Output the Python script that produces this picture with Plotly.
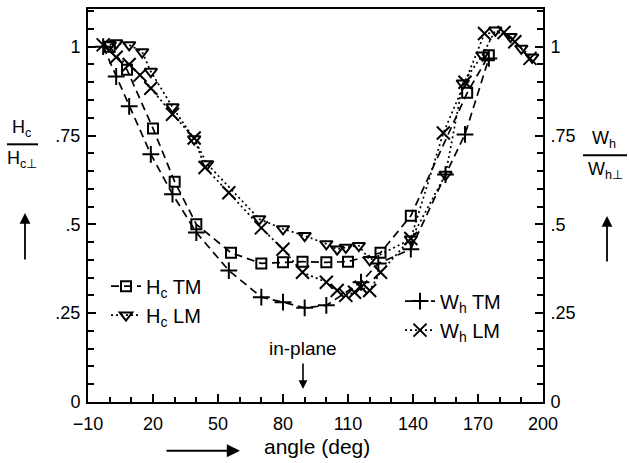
import plotly.graph_objects as go

# ---- data ----
hc_tm_x = [0, 8, 20, 30, 40, 56, 70, 80, 89, 100, 110, 125, 139, 165, 175]
hc_tm_y = [1.0, 0.935, 0.77, 0.62, 0.50, 0.42, 0.39, 0.393, 0.395, 0.393, 0.395, 0.42, 0.524, 0.87, 0.976]

hc_lm_x = [0, 3, 9, 15, 19, 29, 39, 45, 69, 80, 90, 100, 105, 109, 115, 120, 139, 155, 163, 172, 178, 185, 190, 195]
hc_lm_y = [1.005, 1.01, 1.005, 0.985, 0.93, 0.83, 0.74, 0.67, 0.515, 0.487, 0.468, 0.445, 0.43, 0.435, 0.44, 0.40, 0.458, 0.64, 0.897, 0.976, 1.046, 1.028, 0.995, 0.97]

wh_tm_x = [-3, 3, 9, 19, 29, 40, 55, 70, 80, 90, 100, 116, 124, 139, 155, 164, 175]
wh_tm_y = [1.0, 0.916, 0.832, 0.697, 0.585, 0.477, 0.37, 0.295, 0.281, 0.265, 0.272, 0.337, 0.39, 0.43, 0.64, 0.753, 0.967]

wh_lm_x = [-3, 3, 9, 14, 19, 29, 39, 44, 55, 70, 80, 89, 100, 105, 109, 113, 116, 120, 125, 139, 154, 164, 173, 182, 187, 194]
wh_lm_y = [1.005, 0.97, 0.95, 0.92, 0.883, 0.81, 0.743, 0.66, 0.589, 0.49, 0.43, 0.365, 0.337, 0.314, 0.30, 0.309, 0.323, 0.314, 0.365, 0.46, 0.757, 0.90, 1.037, 1.04, 1.014, 0.967]

x_ticks = [-10, 20, 50, 80, 110, 140, 170, 200]
x_tick_text = ["\u221210", "20", "50", "80", "110", "140", "170", "200"]
y_ticks = [0, 0.25, 0.5, 0.75, 1]
y_tick_text = ["0", ".25", ".5", ".75", "1"]

FONT = "Liberation Sans"
BLACK = "black"

fig = go.Figure()

def add(x, y, name, symbol, dash, legend, size):
    fig.add_trace(go.Scatter(
        x=x, y=y, name=name, mode="lines+markers", legend=legend,
        line=dict(color=BLACK, width=1.7, dash=dash),
        marker=dict(symbol=symbol, size=size, color=BLACK,
                    line=dict(color=BLACK, width=2)),
    ))

DASH = "8px,5px"
DOT = "2px,3px"
add(hc_tm_x, hc_tm_y, "H<sub>c</sub> TM", "square-open", DASH, "legend", 10)
add(hc_lm_x, hc_lm_y, "H<sub>c</sub> LM", "triangle-down-open", DOT, "legend", 11)
add(wh_tm_x, wh_tm_y, "W<sub>h</sub> TM", "cross-thin-open", DASH, "legend2", 12)
add(wh_lm_x, wh_lm_y, "W<sub>h</sub> LM", "x-thin-open", DOT, "legend2", 13)

# invisible trace for the right axis
fig.add_trace(go.Scatter(x=[None], y=[None], yaxis="y2", showlegend=False))

W, H = 629, 463
L, R, T, B = 88, 543, 7, 402

def px(xp):
    return (xp - L) / (R - L)

def py(yp):
    return (B - yp) / (B - T)

axis_font = dict(family=FONT, size=18, color=BLACK)
yaxis_common = dict(
    range=[0, 1.106], tickvals=y_ticks, ticktext=y_tick_text,
    ticks="inside", ticklen=8, tickwidth=2, tickcolor=BLACK,
    minor=dict(dtick=0.05, tick0=0, ticks="inside", ticklen=6, tickwidth=1.5, tickcolor=BLACK),
    showline=True, linewidth=2, linecolor=BLACK,
    showgrid=False, zeroline=False, tickfont=axis_font, ticklabelstandoff=2,
)

fig.update_layout(
    width=W, height=H,
    margin=dict(l=L, r=W - R, t=T, b=H - B),
    paper_bgcolor="white", plot_bgcolor="white",
    font=dict(family=FONT, color=BLACK),
    xaxis=dict(
        range=[-10, 200], tickvals=x_ticks, ticktext=x_tick_text,
        ticks="inside", ticklen=8, tickwidth=2,
        minor=dict(dtick=10, tick0=-10, ticks="inside", ticklen=5, tickwidth=1.5, tickcolor=BLACK),
        showline=True, linewidth=2, linecolor=BLACK, mirror=True,
        showgrid=False, zeroline=False, tickfont=axis_font, tickcolor=BLACK,
        ticklabelstandoff=4,
    ),
    yaxis=yaxis_common,
    yaxis2=dict(yaxis_common, overlaying="y", side="right"),
    legend=dict(
        x=px(106), y=py(266), xanchor="left", yanchor="top",
        bgcolor="rgba(0,0,0,0)", font=dict(family=FONT, size=20, color=BLACK),
        itemwidth=30, tracegroupgap=0,
    ),
    legend2=dict(
        x=px(400), y=py(281), xanchor="left", yanchor="top",
        bgcolor="rgba(0,0,0,0)", font=dict(family=FONT, size=20, color=BLACK),
        itemwidth=30, tracegroupgap=0,
    ),
)

lab_font = dict(family=FONT, size=18, color=BLACK)

def text_ann(xp, yp, text, font, yanchor="middle"):
    return dict(x=px(xp), y=py(yp), xref="paper", yref="paper", text=text,
                xanchor="center", yanchor=yanchor, showarrow=False, font=font)

def arrow_ann(xp, yp, ax, ay, width=1.8, size=1.2):
    return dict(x=px(xp), y=py(yp), xref="paper", yref="paper", ax=ax, ay=ay,
                text="", showarrow=True, arrowhead=2, arrowsize=size, arrowwidth=width,
                arrowcolor=BLACK)

ann = [
    # left y label (fraction)
    text_ann(21, 141, "H<sub>c</sub>", lab_font, "bottom"),
    text_ann(22, 145, "H<sub>c\u22a5</sub>", lab_font, "top"),
    # right y label (fraction)
    text_ann(604, 152, "W<sub>h</sub>", lab_font, "bottom"),
    text_ann(605, 156, "W<sub>h\u22a5</sub>", lab_font, "top"),
    # up arrows
    arrow_ann(25, 212, 0, 48),
    arrow_ann(607, 215, 0, 47),
    # x label + arrow
    text_ann(317, 447, "angle (deg)", dict(family=FONT, size=21, color=BLACK)),
    arrow_ann(240, 451, -75, 0, width=2.2),
    # in-plane
    text_ann(303, 348, "in-plane", dict(family=FONT, size=19, color=BLACK)),
    arrow_ann(303, 389, 0, -27, width=1.6, size=1.1),
]
fig.update_layout(annotations=ann)

shapes = [
    dict(type="line", xref="paper", yref="paper", x0=px(7), x1=px(38), y0=py(143), y1=py(143),
         line=dict(color=BLACK, width=2)),
    dict(type="line", xref="paper", yref="paper", x0=px(583), x1=px(627), y0=py(154), y1=py(154),
         line=dict(color=BLACK, width=2)),
]
fig.update_layout(shapes=shapes)

fig.write_html("out.html", config={"displayModeBar": False},
               post_script="document.body.style.margin='0';")
